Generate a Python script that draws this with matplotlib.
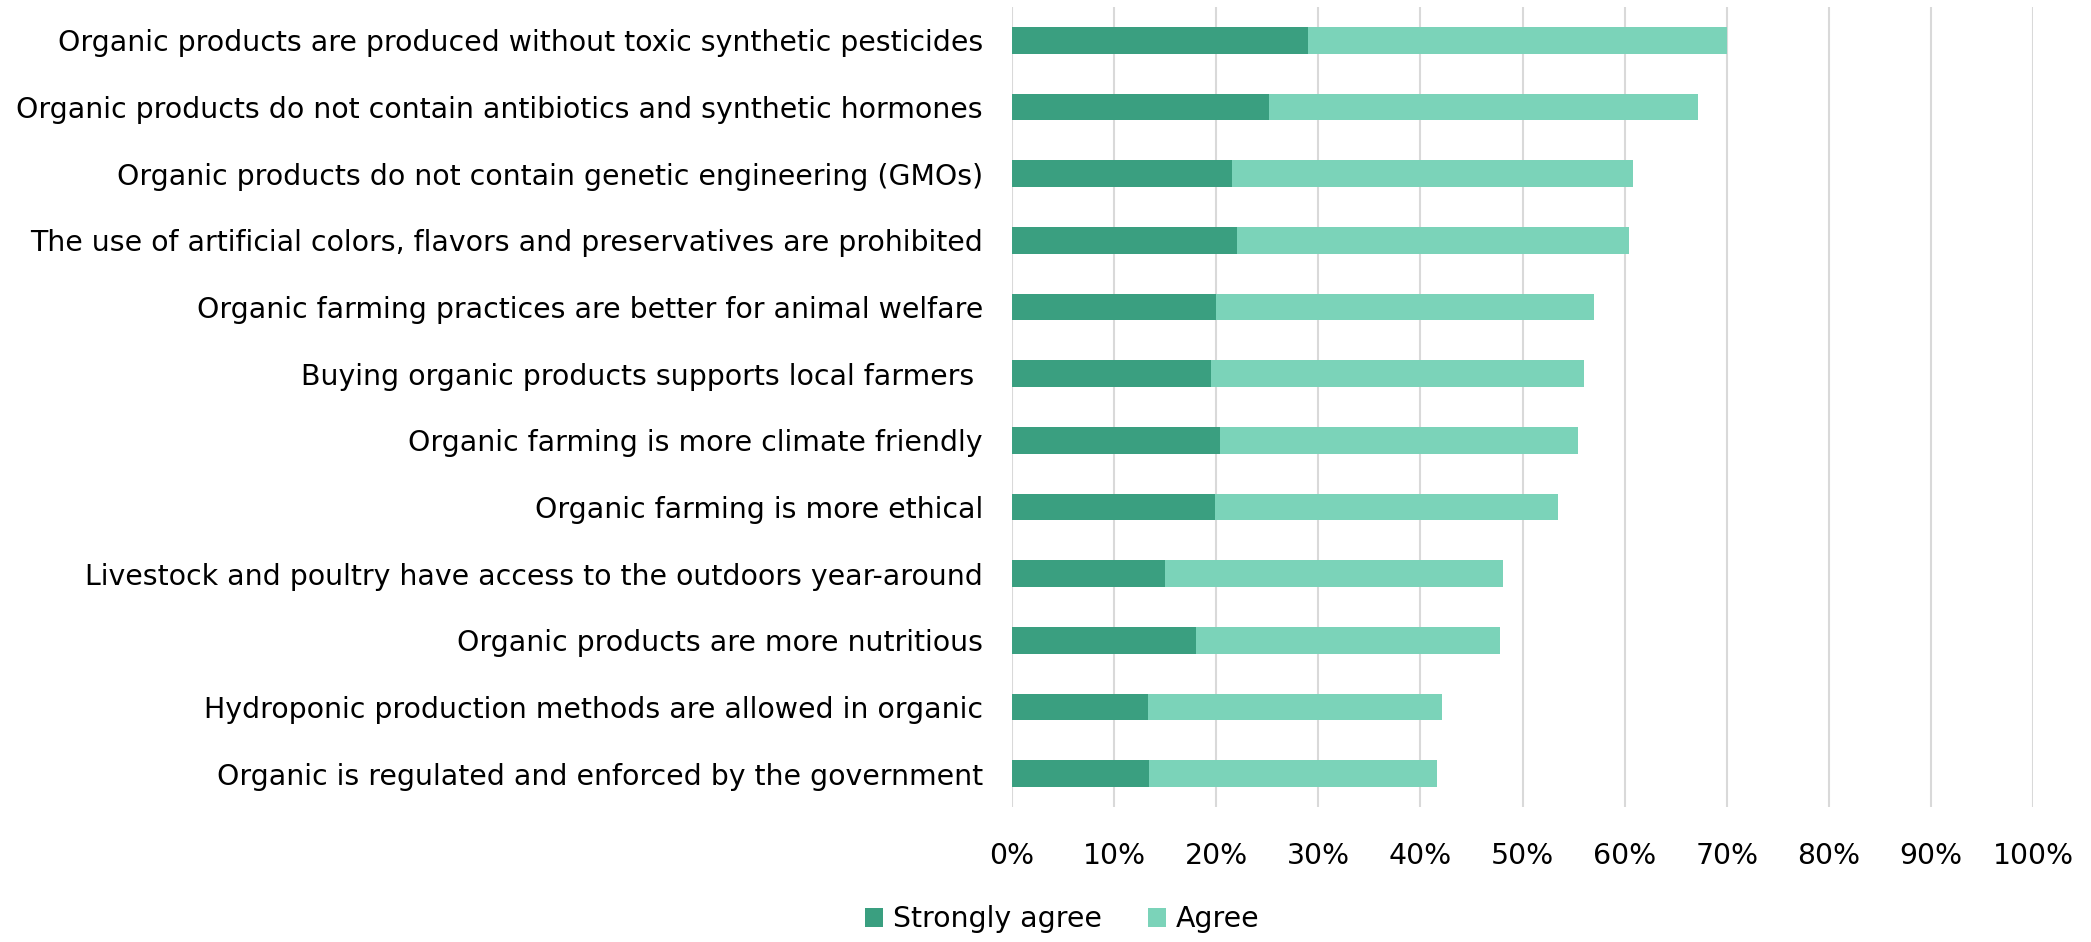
import matplotlib
matplotlib.use("Agg")
import matplotlib.pyplot as plt
from matplotlib.patches import Patch

categories = [
    "Organic products are produced without toxic synthetic pesticides",
    "Organic products do not contain antibiotics and synthetic hormones",
    "Organic products do not contain genetic engineering (GMOs)",
    "The use of artificial colors, flavors and preservatives are prohibited",
    "Organic farming practices are better for animal welfare",
    "Buying organic products supports local farmers ",
    "Organic farming is more climate friendly",
    "Organic farming is more ethical",
    "Livestock and poultry have access to the outdoors year-around",
    "Organic products are more nutritious",
    "Hydroponic production methods are allowed in organic",
    "Organic is regulated and enforced by the government",
]
strongly_agree = [29.0, 25.2, 21.5, 22.0, 20.0, 19.5, 20.4, 19.9, 15.0, 18.0, 13.3, 13.4]
agree = [41.0, 42.0, 39.3, 38.4, 37.0, 36.5, 35.0, 33.6, 33.1, 29.8, 28.8, 28.2]
xticks = [0, 10, 20, 30, 40, 50, 60, 70, 80, 90, 100]
xtick_labels = [f"{v}%" for v in xticks]
series_names = ["Strongly agree", "Agree"]

dark = "#3A9F80"
light = "#7BD3B9"
font = "DejaVu Sans Condensed"
fs = 20.4

fig = plt.figure(figsize=(20.91, 9.42), dpi=100)
ax = fig.add_axes([1012 / 2091, 1 - 807 / 942, (2033 - 1012) / 2091, (807 - 7) / 942])

y = list(range(len(categories)))
ax.barh(y, strongly_agree, height=0.4, color=dark, zorder=3)
ax.barh(y, agree, left=strongly_agree, height=0.4, color=light, zorder=3)

ax.set_xlim(0, 100)
ax.set_ylim(len(categories) - 0.5, -0.5)
ax.set_xticks(xticks)
ax.set_xticklabels(xtick_labels, fontsize=fs, family=font)
ax.set_yticks(y)
ax.set_yticklabels(categories, fontsize=fs, family=font)
ax.tick_params(axis="both", length=0, colors="black")
ax.tick_params(axis="x", pad=25)
ax.tick_params(axis="y", pad=21)
ax.grid(axis="x", color="#D9D9D9", linewidth=1.5, zorder=0)
for s in ax.spines.values():
    s.set_visible(False)

handles = [Patch(facecolor=dark), Patch(facecolor=light)]
fig.legend(handles, series_names, loc="center", bbox_to_anchor=(0.508, 0.024),
           ncol=2, frameon=False, prop={"family": font, "size": fs},
           handlelength=0.65, handleheight=0.65, handletextpad=0.35, columnspacing=1.6)

fig.savefig("out.png", dpi=100)
